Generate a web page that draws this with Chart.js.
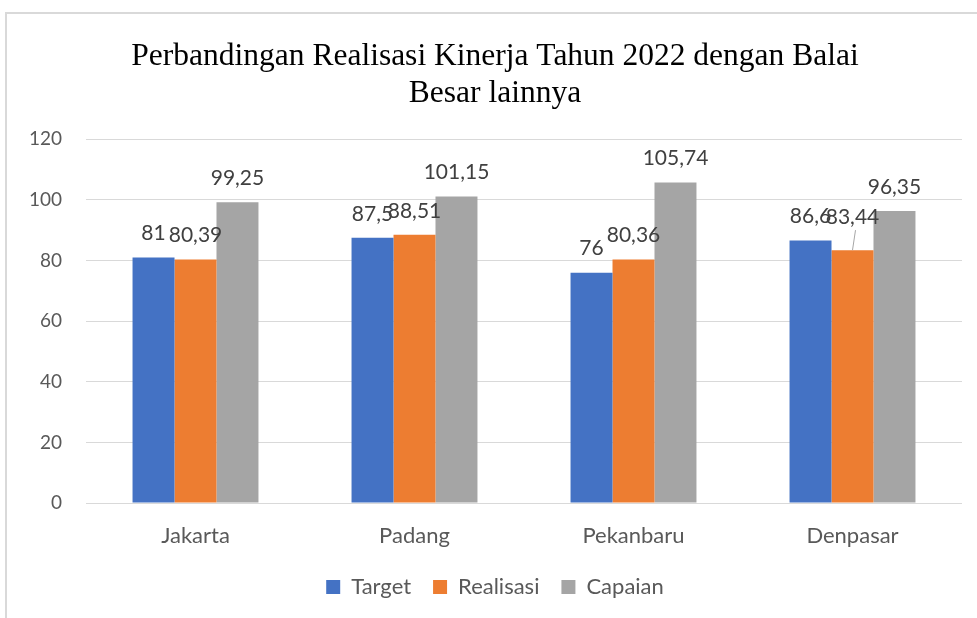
<!DOCTYPE html>
<html>
<head>
<meta charset="utf-8">
<script src="https://cdn.jsdelivr.net/npm/chart.js@4"></script>
<style>
    body { margin: 0; background: #fff; overflow: hidden; }
    #frame { position: absolute; left: 5px; top: 12px; width: 980px; height: 620px; border: 2px solid #d9d9d9; box-sizing: border-box; }
    #wrap { position: absolute; left: 0; top: 0; width: 977px; height: 618px; }
</style>
</head>
<body>
<div id="frame"></div>
<div id="wrap"><canvas id="chart"></canvas></div>
<script>
const categories = ['Jakarta', 'Padang', 'Pekanbaru', 'Denpasar'];
const target = [81, 87.5, 76, 86.6];
const realisasi = [80.39, 88.51, 80.36, 83.44];
const capaian = [99.25, 101.15, 105.74, 96.35];
const titleLines = ['Perbandingan Realisasi Kinerja Tahun 2022 dengan Balai', 'Besar lainnya'];

const fmt = v => String(v).replace('.', ',');

// labels on top of bars, like Excel data labels
const barLabels = {
    id: 'barLabels',
    afterDatasetsDraw(chart, args, opts) {
        const ctx = chart.ctx;
        ctx.save();
        ctx.font = '21px Lato';
        ctx.fillStyle = '#404040';
        ctx.textAlign = 'center';
        ctx.textBaseline = 'middle';
        chart.data.datasets.forEach((ds, di) => {
            chart.getDatasetMeta(di).data.forEach((bar, i) => {
                const lift = (opts.lift[di] && opts.lift[di][i]) || 0;
                const y = bar.y - 24 - lift;
                if (lift) {
                    ctx.strokeStyle = '#a6a6a6';
                    ctx.lineWidth = 1;
                    ctx.beginPath();
                    ctx.moveTo(bar.x, bar.y);
                    ctx.lineTo(bar.x + 3, y + 13);
                    ctx.stroke();
                }
                ctx.fillText(fmt(ds.data[i]), bar.x, y);
            });
        });
        ctx.restore();
    }
};

new Chart(document.getElementById('chart'), {
    type: 'bar',
    data: {
        labels: categories,
        datasets: [
            { label: 'Target', data: target, backgroundColor: '#4472C4' },
            { label: 'Realisasi', data: realisasi, backgroundColor: '#ED7D31' },
            { label: 'Capaian', data: capaian, backgroundColor: '#A5A5A5' }
        ]
    },
    options: {
        responsive: true,
        maintainAspectRatio: false,
        animation: false,
        datasets: { bar: { barPercentage: 1, categoryPercentage: 0.575 } },
        layout: { padding: { left: 28, right: 15, top: 38, bottom: 10 } },
        plugins: {
            title: {
                display: true,
                text: titleLines,
                color: '#000',
                font: { family: 'Liberation Serif', size: 31.5, weight: 'normal', lineHeight: 1.18 },
                padding: { top: 0, bottom: 27 }
            },
            legend: {
                position: 'bottom',
                labels: {
                    color: '#595959',
                    font: { family: 'Lato', size: 22 },
                    boxWidth: 14,
                    boxHeight: 14,
                    padding: 22
                }
            },
            tooltip: { enabled: false },
            barLabels: { lift: { 1: { 3: 9 } } }
        },
        scales: {
            x: {
                grid: { display: false },
                border: { display: false },
                ticks: { color: '#595959', font: { family: 'Lato', size: 22 }, padding: 12 },
                afterFit: s => { s.height = 51; }
            },
            y: {
                min: 0,
                max: 120,
                ticks: { stepSize: 20, color: '#595959', font: { family: 'Lato', size: 19 }, padding: 24 },
                grid: { color: '#d9d9d9', drawTicks: false },
                border: { display: false },
                afterFit: s => { s.width = 58; }
            }
        }
    },
    plugins: [barLabels]
});
</script>
</body>
</html>
